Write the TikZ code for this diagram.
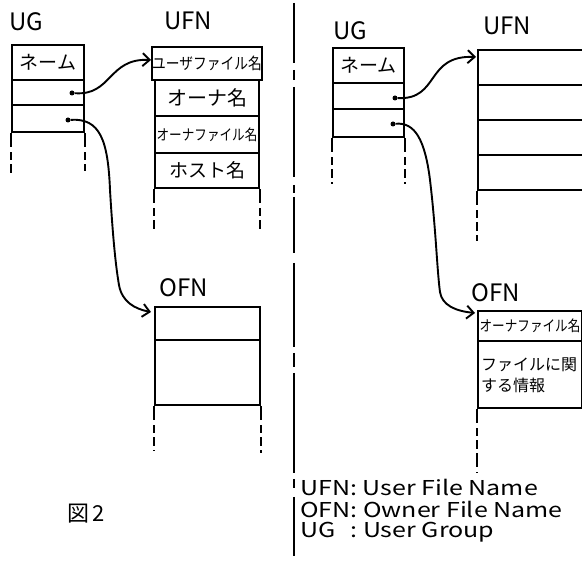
\documentclass[tikz,border=0pt]{standalone}
\usepackage{fontspec}
\usepackage{graphicx}
\setmainfont{Noto Sans CJK JP}
\usetikzlibrary{arrows.meta}
\begin{document}
\begin{tikzpicture}[x=1pt,y=-1pt,
  cell/.style={draw,line width=2.2pt,inner sep=0pt,font=\fontsize{19}{20}\selectfont},
  ext/.style={line width=2.2pt,dash pattern=on 14pt off 5pt on 8pt off 4pt on 9pt off 4pt},
  lbl/.style={font=\fontsize{24}{26}\selectfont,inner sep=0pt},
  legend/.style={font=\fontsize{20.5}{22}\selectfont,inner sep=0pt,anchor=west},
  dot/.style={circle,fill,inner sep=0pt,minimum size=5pt},
  conn/.style={line width=1.9pt,-{Straight Barb[length=7pt,width=13pt,line width=1.9pt]}}]
\useasboundingbox (0,0) rectangle (582,561);
\clip (0,0) rectangle (582,561);
\fill[white] (0,0) rectangle (582,561);

% ---------- left half ----------
\node[lbl] (lug) at (26,22) {UG};
\node[lbl] (lufn) at (188,21) {UFN};

\node[cell,minimum width=72pt,minimum height=35pt] (lug1) at (48,62.5) {ネーム};
\node[cell,minimum width=72pt,minimum height=25pt] (lug2) at (48,92.5) {};
\node[cell,minimum width=72pt,minimum height=27pt] (lug3) at (48,118.5) {};
\draw[ext] (lug3.south west) -- ++(0,40);
\draw[ext] (lug3.south east) -- ++(0,38);

\node[cell,minimum width=104pt,minimum height=33pt] (lufn1) at (207,63.5) {\scalebox{0.86}[1]{\fontsize{16}{18}\selectfont ユーザファイル名}};
\node[cell,minimum width=104pt,minimum height=36pt] (lufn2) at (207,98) {\fontsize{20}{22}\selectfont オーナ名};
\node[cell,minimum width=104pt,minimum height=37pt] (lufn3) at (207,134.5) {\scalebox{0.84}[1]{\fontsize{15}{18}\selectfont オーナファイル名}};
\node[cell,minimum width=104pt,minimum height=35pt] (lufn4) at (207,170.5) {\fontsize{19}{20}\selectfont ホスト名};
\draw[ext] (lufn4.south west) -- ++(0,42);
\draw[ext] (lufn4.south east) -- ++(0,42);

\node[lbl] (lofn) at (184,288) {OFN};
\node[cell,minimum width=105pt,minimum height=33pt] (lofn1) at (207.5,323.5) {};
\node[cell,minimum width=105pt,minimum height=65pt] (lofn2) at (207.5,372.5) {};
\draw[ext] (lofn2.south west) -- ++(0,45);
\draw[ext] (lofn2.south east) -- ++(0,47);

\node[font=\fontsize{22}{24}\selectfont,inner sep=0pt] (fig) at (86,514) {図\,2};

\node[dot] (ld1) at (72,93) {};
\node[dot] (ld2) at (68,120) {};
\coordinate (lt1) at (151,60);
\coordinate (lt2) at (151,312);
\draw[conn] (ld1) .. controls (112,96) and (108,58) .. (lt1);
\draw[conn] (ld2) .. controls (100,118) and (108,140) .. (110,190)
  .. controls (113,240) and (116,268) .. (119,285)
  .. controls (122,302) and (135,309) .. (lt2);

% ---------- divider ----------
\foreach \a/\b in {3/63,70/80,87/177,185/193,197/253,263/347,353/367,373/473,479/488,497/556}
  \draw[line width=2.2pt] (294,\a) -- (294,\b);

% ---------- right half ----------
\node[lbl] (rug) at (350,31) {UG};
\node[lbl] (rufn) at (507,26) {UFN};

\node[cell,minimum width=71pt,minimum height=35pt] (rug1) at (368.5,65.5) {ネーム};
\node[cell,minimum width=71pt,minimum height=26pt] (rug2) at (368.5,96) {};
\node[cell,minimum width=71pt,minimum height=28pt] (rug3) at (368.5,123) {};
\draw[ext] (rug3.south west) -- ++(0,46);
\draw[ext] (rug3.south east) -- ++(0,46);

\node[cell,minimum width=122pt,minimum height=35pt] (rufn1) at (539,67.5) {};
\node[cell,minimum width=122pt,minimum height=35pt] (rufn2) at (539,102.5) {};
\node[cell,minimum width=122pt,minimum height=35pt] (rufn3) at (539,137.5) {};
\node[cell,minimum width=122pt,minimum height=35pt] (rufn4) at (539,172.5) {};
\draw[ext] (rufn4.south west) -- ++(0,50);

\node[lbl] (rofn) at (496,293) {OFN};
\node[cell,minimum width=104pt,minimum height=30pt] (rofn1) at (530,326) {\scalebox{0.84}[1]{\fontsize{15}{18}\selectfont オーナファイル名}};
\node[cell,minimum width=104pt,minimum height=67pt] (rofn2) at (530,374.5) {};
\node[anchor=west,inner sep=0pt,align=left,font=\fontsize{16}{21}\selectfont] (rinfo) at (481,375) {ファイルに関\\する情報};
\draw[ext] (rofn2.south west) -- ++(0,64);
\draw[line width=0.8pt,gray,dashed] (rofn2.south east) -- ++(0,60);

\node[dot] (rd1) at (395,98) {};
\node[dot] (rd2) at (393,124) {};
\coordinate (rt1) at (476,57);
\coordinate (rt2) at (475,313);
\draw[conn] (rd1) .. controls (440,100) and (425,55) .. (rt1);
\draw[conn] (rd2) .. controls (415,122) and (425,140) .. (430,180)
  .. controls (436,230) and (437,270) .. (440,292)
  .. controls (442,305) and (455,311) .. (rt2);

% ---------- legend ----------
\node[legend] (leg1) at (300,487) {\scalebox{1.22}[1]{UFN: User File Name}};
\node[legend] (leg2) at (300,509.5) {\scalebox{1.22}[1]{OFN: Owner File Name}};
\node[legend] (leg3) at (300,532) {\scalebox{1.22}[1]{UG\hspace{0.6em}: User Group}};
\end{tikzpicture}
\end{document}
